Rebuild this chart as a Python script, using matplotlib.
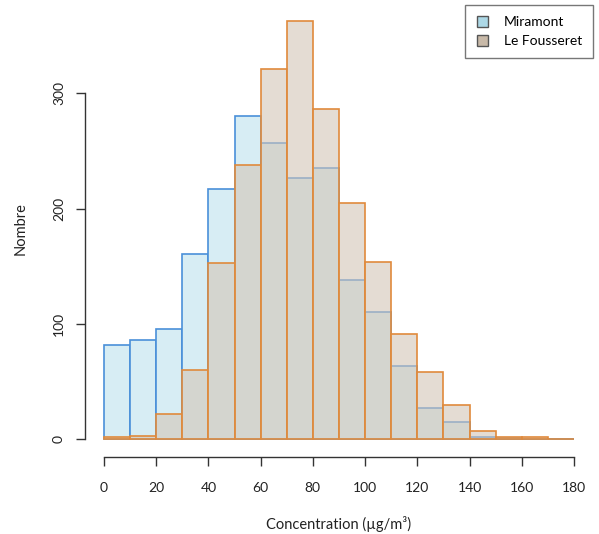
import numpy as np
import matplotlib
matplotlib.use("Agg")
import matplotlib.pyplot as plt
from matplotlib.patches import Patch

plt.rcParams['font.family'] = ['Lato', 'DejaVu Sans']

# histogram data (10 ug/m3 bins)
bin_edges = [0, 10, 20, 30, 40, 50, 60, 70, 80, 90, 100, 110, 120, 130, 140, 150, 160, 170, 180]
miramont = [82, 86, 96, 161, 217, 280, 257, 227, 235, 138, 110, 64, 27, 15, 2, 1, 0, 0]
fousseret = [2, 3, 22, 60, 153, 238, 321, 363, 286, 205, 154, 91, 58, 30, 7, 2, 2, 0]
labels = ["Miramont", "Le Fousseret"]

fig = plt.figure(figsize=(5.99, 5.34), dpi=100)
ax = fig.add_axes([0.1649, 0.1708, 0.802, 0.8013])

left = np.array(bin_edges[:-1])
width = np.diff(bin_edges)

ax.bar(left, miramont, width=width, align='edge', color='#D7EDF4',
       edgecolor='#4A90D9', linewidth=1.2)
ax.bar(left, fousseret, width=width, align='edge', color=(210/255, 197/255, 183/255, 0.6),
       edgecolor='#E08A3C', linewidth=1.2)

ax.set_xlim(-2, 182)
ax.set_ylim(-3, 368)

# R-like detached axes
for s in ['top', 'right']:
    ax.spines[s].set_visible(False)
ax.spines['left'].set_position(('outward', 9.9))
ax.spines['bottom'].set_position(('outward', 10.2))
ax.spines['left'].set_bounds(0, 300)
ax.spines['bottom'].set_bounds(0, 180)
for s in ['left', 'bottom']:
    ax.spines[s].set_color('#333333')
    ax.spines[s].set_linewidth(1.0)

ax.set_xticks(range(0, 181, 20))
ax.set_yticks([0, 100, 200, 300])
ax.tick_params(axis='both', length=6.5, width=1.0, color='#333333', labelsize=10, labelcolor='#222222')
ax.tick_params(axis='x', pad=11.5)
ax.tick_params(axis='y', pad=8)
for t in ax.get_yticklabels():
    t.set_rotation(90)
    t.set_va('center')

ax.set_xlabel("Concentration (µg/m³)", fontsize=10.5, color='#222222')
ax.set_ylabel("Nombre", fontsize=10.5, color='#222222')
ax.xaxis.set_label_coords(0.5, -0.19)
ax.xaxis.label.set_va('center')
ax.yaxis.set_label_coords(-0.162, 0.5)
ax.yaxis.label.set_va('center')

handles = [Patch(facecolor='#ADD8E6', edgecolor='#555555', label=labels[0]),
           Patch(facecolor='#C8B9A8', edgecolor='#555555', label=labels[1])]
fig.legend(handles=handles, loc='upper right', bbox_to_anchor=(593 / 599, 1 - 5 / 534),
           frameon=True, fancybox=False, edgecolor='#555555', fontsize=10,
           handlelength=0.85, handleheight=0.85, handletextpad=1.1, borderpad=0.8,
           labelspacing=0.45, borderaxespad=0)
fig.legends[0].get_frame().set_linewidth(1.0)

fig.savefig("out.png", dpi=100)
